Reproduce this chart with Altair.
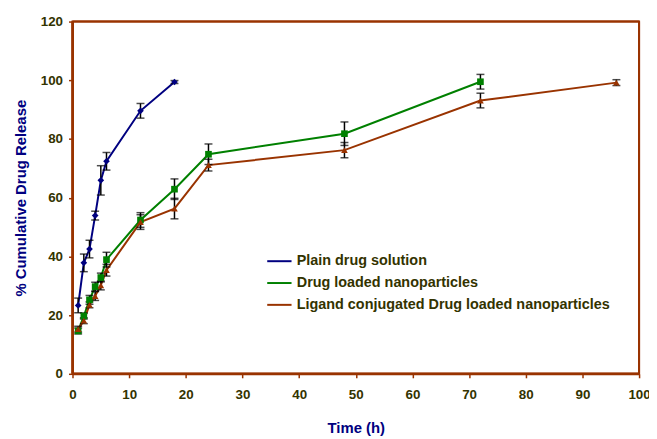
import altair as alt
import pandas as pd

series_names = ["Plain drug solution", "Drug loaded nanoparticles",
                "Ligand conjugated Drug loaded nanoparticles"]
series_colors = ["#000080", "#008000", "#993300"]
series_shapes = ["diamond", "square", "triangle-up"]

plain_time = [1, 2, 3, 4, 5, 6, 12, 18]
plain_release = [23.3, 37.8, 42.5, 53.9, 65.9, 72.4, 89.6, 99.4]
plain_err = [2.5, 3.0, 3.0, 1.5, 5.0, 3.0, 2.5, 0.5]

np_time = [1, 2, 3, 4, 5, 6, 12, 18, 24, 48, 72]
np_release = [14.6, 19.7, 25.2, 29.7, 32.8, 38.9, 52.4, 62.9, 74.8, 81.8, 99.5]
np_err = [1.0, 1.0, 1.5, 1.5, 1.5, 2.5, 2.5, 3.5, 3.5, 4.0, 2.5]

lig_time = [1, 2, 3, 4, 5, 6, 12, 18, 24, 48, 72, 96]
lig_release = [15.2, 18.1, 23.5, 26.5, 30.1, 35.3, 51.7, 56.3, 71.1, 76.2, 93.1, 99.2]
lig_err = [1.0, 1.0, 1.0, 1.5, 1.5, 2.0, 2.5, 3.5, 2.0, 2.6, 2.5, 1.0]

x_ticks = list(range(0, 101, 10))
y_ticks = list(range(0, 121, 20))
x_limits = [0, 100]
y_limits = [0, 120]

rows = []
for name, ts, vs, es in zip(series_names,
                            [plain_time, np_time, lig_time],
                            [plain_release, np_release, lig_release],
                            [plain_err, np_err, lig_err]):
    for t, v, e in zip(ts, vs, es):
        rows.append({"series": name, "time": t, "release": v,
                     "lo": v - e, "hi": v + e})
df = pd.DataFrame(rows)

label_color = "#333300"
frame_color = "#993300"
font = "Liberation Sans"

x_enc = alt.X("time:Q", title="Time (h)",
              scale=alt.Scale(domain=x_limits, nice=False),
              axis=alt.Axis(values=x_ticks, labelPadding=10, titlePadding=20,
                            labelFlush=False))
y_enc = alt.Y("release:Q", title="% Cumulative Drug Release",
              scale=alt.Scale(domain=y_limits, nice=False),
              axis=alt.Axis(values=y_ticks, labelPadding=6, titlePadding=12,
                            labelFlush=False))

color_enc = alt.Color("series:N",
                      scale=alt.Scale(domain=series_names, range=series_colors),
                      legend=alt.Legend(title=None, orient="none",
                                        legendX=195, legendY=228,
                                        symbolType="stroke",
                                        symbolSize=600, symbolStrokeWidth=2,
                                        labelFont=font, labelFontWeight="bold",
                                        labelFontSize=14.5,
                                        labelColor=label_color,
                                        labelOffset=4, rowPadding=2,
                                        labelLimit=400))

base = alt.Chart(df)

# frame lines along the plot area's edges
frame_df = pd.DataFrame({"xv": [x_limits[1]], "yv": [y_limits[1]]})
frame_right = alt.Chart(frame_df).mark_rule(color=frame_color, strokeWidth=2).encode(
    x=alt.X("xv:Q"))
frame_top = alt.Chart(frame_df).mark_rule(color=frame_color, strokeWidth=2).encode(
    y=alt.Y("yv:Q"))
axis_df = pd.DataFrame({"xv": [x_limits[0]], "yv": [y_limits[0]]})
axis_left = alt.Chart(axis_df).mark_rule(color=frame_color, strokeWidth=2.5).encode(
    x=alt.X("xv:Q"))
axis_bottom = alt.Chart(axis_df).mark_rule(color=frame_color, strokeWidth=2.5).encode(
    y=alt.Y("yv:Q"))

err_rule = base.mark_rule(color="black", strokeWidth=1.5).encode(
    x="time:Q", y="lo:Q", y2="hi:Q")
cap_lo = base.mark_tick(color="black", thickness=1.5, size=8,
                        orient="horizontal").encode(x="time:Q", y="lo:Q")
cap_hi = base.mark_tick(color="black", thickness=1.5, size=8,
                        orient="horizontal").encode(x="time:Q", y="hi:Q")

lines = base.mark_line(strokeWidth=2).encode(
    x=x_enc, y=y_enc, color=color_enc, detail="series:N")
points = base.mark_point(filled=True, opacity=1, size=45).encode(
    x="time:Q", y="release:Q",
    fill=alt.Fill("series:N",
                  scale=alt.Scale(domain=series_names, range=series_colors),
                  legend=None),
    shape=alt.Shape("series:N",
                    scale=alt.Scale(domain=series_names, range=series_shapes),
                    legend=None))

chart = alt.layer(lines, frame_right, frame_top, axis_left, axis_bottom,
                  err_rule, cap_lo, cap_hi, points).properties(
    width=571, height=355,
    autosize=alt.AutoSizeParams(type="none"),
    padding={"left": 65, "top": 12, "right": 10, "bottom": 62},
    background="white",
).resolve_scale(
    color="independent", fill="independent", shape="independent"
).resolve_legend(
    color="independent", fill="independent", shape="independent"
).configure_view(
    stroke=frame_color, strokeWidth=2
).configure_axis(
    grid=False, tickSize=4, tickColor=frame_color, tickWidth=1.5,
    domainColor=frame_color, domainWidth=2,
    labelColor=label_color, labelFont=font, labelFontWeight="bold",
    labelFontSize=13.5,
    titleColor="#000080", titleFont=font, titleFontWeight="bold",
    titleFontSize=15,
)

chart.save("out.html", embed_options={"renderer": "svg", "actions": False})
